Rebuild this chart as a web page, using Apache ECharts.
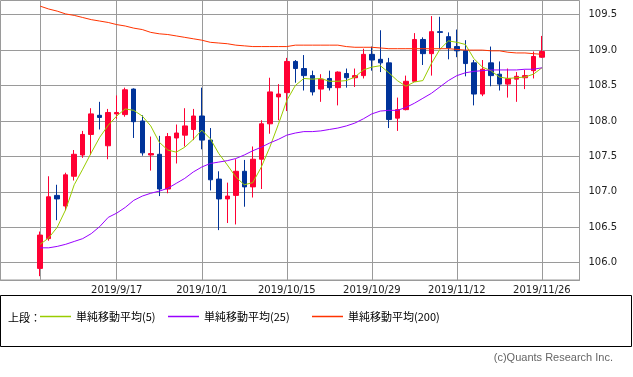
<!DOCTYPE html>
<html>
<head>
<meta charset="utf-8">
<script src="https://cdn.jsdelivr.net/npm/echarts@6/dist/echarts.min.js"></script>
<style>
  html, body { margin: 0; padding: 0; background: #fff; }
  #chart { width: 633px; height: 377px; }
</style>
</head>
<body>
<div id="chart"></div>
<script>
// x軸の目盛り（営業日インデックス 0 = 2019/9/4）
const tickIndex = [9, 19, 29, 39, 49, 59];
const tickLabels = ['2019/9/17', '2019/10/1', '2019/10/15', '2019/10/29', '2019/11/12', '2019/11/26'];
const priceTicks = [106.0, 106.5, 107.0, 107.5, 108.0, 108.5, 109.0, 109.5];

// ローソク足
const open = [105.92,106.34,106.95,106.80,107.22,107.52,107.81,108.08,107.65,108.10,
  108.09,108.45,108.00,107.52,107.53,107.04,107.76,107.80,107.88,108.07,
  107.73,107.18,106.90,106.95,107.29,107.07,107.46,107.96,108.34,108.40,
  108.84,108.74,108.64,108.45,108.60,108.47,108.67,108.61,108.64,108.94,
  108.87,108.82,108.04,108.16,108.56,109.15,108.95,109.26,109.19,109.05,
  108.99,108.82,108.38,108.82,108.66,108.52,108.59,108.61,108.71,108.90];
const close = [106.39,106.93,106.90,107.24,107.53,107.81,108.10,108.05,108.12,108.12,
  108.44,107.99,107.55,107.54,107.04,107.78,107.83,107.93,108.07,107.73,
  107.17,106.90,106.94,107.29,107.07,107.46,107.96,108.41,108.38,108.84,
  108.74,108.64,108.41,108.59,108.47,108.69,108.61,108.64,108.94,108.86,
  108.82,108.02,108.16,108.56,109.15,108.95,109.26,109.25,109.03,108.99,
  108.81,108.38,108.73,108.64,108.52,108.60,108.63,108.64,108.91,108.98];
const high = [106.44,107.22,107.10,107.27,107.59,107.86,108.18,108.27,108.17,108.36,
  108.47,108.46,108.08,107.78,107.79,107.83,107.95,108.18,108.17,108.47,
  107.90,107.29,107.13,107.46,107.45,107.64,108.01,108.61,108.52,108.89,
  108.86,108.93,108.71,108.66,108.71,108.70,108.74,108.74,109.02,109.05,
  109.28,108.89,108.33,108.64,109.24,109.18,109.48,109.47,109.25,109.29,
  109.14,108.86,108.86,109.05,108.84,108.74,108.69,108.72,108.98,109.20];
const low = [105.81,106.31,106.60,106.74,107.16,107.48,107.52,107.88,107.46,108.03,
  108.06,107.76,107.51,107.30,106.94,106.98,107.40,107.64,107.73,107.60,
  107.02,106.46,106.56,106.54,106.79,106.92,107.04,107.82,108.01,108.14,
  108.54,108.43,108.36,108.27,108.43,108.22,108.47,108.48,108.60,108.71,
  108.69,107.90,107.86,108.15,108.55,108.79,108.64,109.02,108.87,108.90,
  108.63,108.22,108.35,108.49,108.43,108.33,108.27,108.45,108.60,108.89];

// 移動平均（チャートから読み取り）
const ma5 = [106.26,106.35,106.50,106.75,107.10,107.32,107.55,107.77,107.94,108.07,
  108.17,108.15,108.07,107.93,107.70,107.59,107.56,107.63,107.74,107.87,
  107.75,107.54,107.38,107.21,107.10,107.13,107.35,107.63,107.95,108.29,
  108.50,108.60,108.59,108.60,108.56,108.56,108.57,108.62,108.72,108.76,
  108.78,108.68,108.57,108.49,108.55,108.57,108.81,109.01,109.13,109.11,
  109.08,108.88,108.76,108.71,108.62,108.60,108.61,108.62,108.66,108.75];
const ma25 = [106.21,106.21,106.23,106.26,106.30,106.34,106.41,106.51,106.64,106.70,
  106.78,106.88,106.94,106.98,107.01,107.05,107.12,107.19,107.28,107.35,
  107.40,107.42,107.44,107.47,107.52,107.58,107.63,107.69,107.74,107.80,
  107.83,107.85,107.85,107.86,107.88,107.90,107.93,107.97,108.03,108.10,
  108.14,108.15,108.15,108.19,108.25,108.32,108.39,108.48,108.57,108.64,
  108.68,108.70,108.71,108.72,108.72,108.72,108.72,108.73,108.73,108.75];
const ma200 = [109.62,109.58,109.55,109.51,109.49,109.46,109.43,109.41,109.39,109.36,
  109.34,109.31,109.29,109.25,109.23,109.22,109.20,109.18,109.16,109.14,
  109.11,109.10,109.09,109.07,109.06,109.05,109.05,109.05,109.05,109.05,
  109.07,109.07,109.07,109.07,109.07,109.07,109.05,109.04,109.04,109.04,
  109.03,109.02,109.02,109.02,109.02,109.02,109.02,109.02,109.02,109.01,
  109.00,109.00,109.00,108.99,108.99,108.97,108.96,108.96,108.95,108.94];

const candles = open.map((o, i) => [i, o, close[i], low[i], high[i]]);
const toXY = arr => arr.map((v, i) => [i, v]);

const gridColor = '#9a9a9a';
const legendText = { color: '#000', fontSize: 11, fontFamily: '"Noto Sans CJK JP"' };
// 凡例は1項目ずつ配置（間隔が不揃いなため）
const legendItem = (name, left) => ({
  data: [name], left: left, top: 311, padding: 0,
  icon: 'rect', itemWidth: 31, itemHeight: 1.5,
  selectedMode: false, textStyle: legendText
});

const chart = echarts.init(document.getElementById('chart'));
const option = {
  animation: false,
  backgroundColor: '#fff',
  grid: {
    left: 0.5, top: 0.5, width: 579, height: 279.5,
    show: true, borderColor: gridColor, borderWidth: 1
  },
  xAxis: {
    type: 'value',
    min: -4.67,
    max: 63.42,
    axisLine: { show: true, lineStyle: { color: gridColor } },
    axisTick: { show: false, customValues: tickIndex },
    axisLabel: {
      customValues: tickIndex,
      formatter: v => tickLabels[tickIndex.indexOf(v)] || '',
      margin: 5,
      color: '#222',
      fontSize: 10,
      fontFamily: '"DejaVu Sans"'
    },
    splitLine: { show: true, lineStyle: { color: gridColor, width: 1 } }
  },
  yAxis: {
    type: 'value',
    position: 'right',
    min: 105.756,
    max: 109.70,
    axisLine: { show: true, lineStyle: { color: gridColor } },
    axisTick: { show: true, length: 5, customValues: priceTicks, lineStyle: { color: gridColor } },
    axisLabel: {
      customValues: priceTicks,
      formatter: v => v.toFixed(1),
      margin: 9,
      color: '#222',
      fontSize: 10,
      fontFamily: '"DejaVu Sans"'
    },
    splitLine: { show: true, lineStyle: { color: gridColor, width: 1 } }
  },
  legend: [
    legendItem('単純移動平均(5)', 40),
    legendItem('単純移動平均(25)', 168),
    legendItem('単純移動平均(200)', 312)
  ],
  graphic: [
    { type: 'rect', shape: { x: 0.5, y: 295.5, width: 631, height: 51 },
      style: { fill: 'none', stroke: '#000', lineWidth: 1 }, silent: true },
    { type: 'text', x: 8, y: 318,
      style: { text: '上段：', fill: '#000', font: '11px "Noto Sans CJK JP"', verticalAlign: 'middle' } },
    { type: 'text', x: 613, y: 358,
      style: { text: '(c)Quants Research Inc.', fill: '#666', font: '11px "Liberation Sans"', align: 'right', verticalAlign: 'middle' } }
  ],
  series: [
    {
      name: 'ローソク足',
      type: 'candlestick',
      data: candles,
      encode: { x: 0, y: [1, 2, 3, 4] },
      barWidth: 5,
      itemStyle: {
        color: '#ff0033', color0: '#003399',
        borderColor: '#ff0033', borderColor0: '#003399',
        borderWidth: 1
      },
      z: 2
    },
    { name: '単純移動平均(5)', type: 'line', data: toXY(ma5), symbol: 'none',
      lineStyle: { color: '#99cc00', width: 1 }, itemStyle: { color: '#99cc00' }, z: 3 },
    { name: '単純移動平均(25)', type: 'line', data: toXY(ma25), symbol: 'none',
      lineStyle: { color: '#9900ff', width: 1 }, itemStyle: { color: '#9900ff' }, z: 3 },
    { name: '単純移動平均(200)', type: 'line', data: toXY(ma200), symbol: 'none',
      lineStyle: { color: '#ff3300', width: 1 }, itemStyle: { color: '#ff3300' }, z: 3 }
  ]
};
chart.setOption(option);
</script>
</body>
</html>
